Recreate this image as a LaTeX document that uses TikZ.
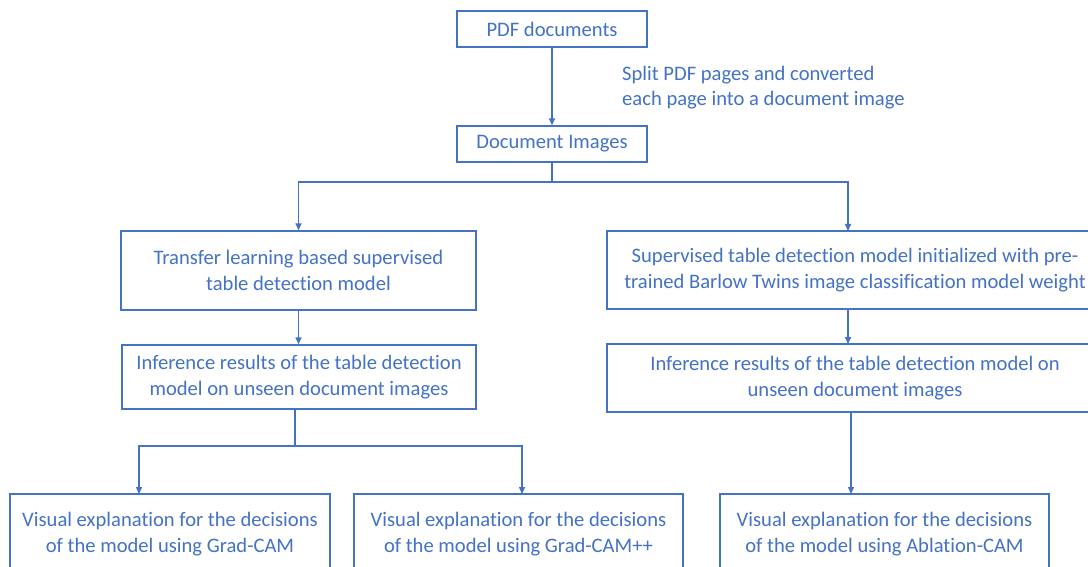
\documentclass[tikz,border=0pt]{standalone}
\usepackage{fontspec}
\setmainfont{Carlito}[Ligatures=NoCommon]
\usetikzlibrary{arrows.meta}
\definecolor{blu}{HTML}{4472C4}
\begin{document}
\begin{tikzpicture}[x=1pt,y=-1pt,
  box/.style={draw=blu, line width=1.4pt, text=blu, align=center, inner sep=0pt,
              font=\fontsize{20.6}{26}\selectfont},
  conn/.style={draw=blu, line width=1.4pt},
  arr/.style={conn, -{Triangle[length=7pt,width=6pt]}}]
\useasboundingbox (0,0) rectangle (1088,567);
\clip (0,0) rectangle (1088,567);
\fill[white] (0,0) rectangle (1088,567);
% nodes
\node[box, minimum width=190pt, minimum height=36pt] (pdf) at (552,29) {PDF documents};
\node[box, minimum width=190pt, minimum height=36pt] (doc) at (552,144) {Document Images};
\node[text=blu, align=left, anchor=west, inner sep=0pt, font=\fontsize{20.6}{25}\selectfont] (lbl) at (622,87.5)
  {Split PDF pages and converted\\each page into a document image};
\node[box, minimum width=355pt, minimum height=79pt] (l1) at (298.5,270.5)
  {Transfer learning based supervised\\table detection model};
\node[box, minimum width=354pt, minimum height=64pt] (l2) at (299,377)
  {Inference results of the table detection\\model on unseen document images};
\node[box, minimum width=496pt, minimum height=78pt] (r1) at (855,270)
  {Supervised table detection model initialized with pre-\\trained Barlow Twins image classification model weight};
\node[box, minimum width=496pt, minimum height=68pt] (r2) at (855,378)
  {Inference results of the table detection model on\\unseen document images};
\node[box, minimum width=320pt, minimum height=80pt] (bl) at (170,534)
  {Visual explanation for the decisions\\of the model using Grad-CAM};
\node[box, minimum width=329pt, minimum height=80pt] (bm) at (518.5,534)
  {Visual explanation for the decisions\\of the model using Grad-CAM++};
\node[box, minimum width=329pt, minimum height=80pt] (br) at (884.5,534)
  {Visual explanation for the decisions\\of the model using Ablation-CAM};
% junctions and ports
\coordinate (j1) at (552,182);
\coordinate (r1in) at (848,231);
\coordinate (r1out) at (848,309);
\coordinate (r2in) at (848,344);
\coordinate (r2out) at (851,412);
\coordinate (brin) at (851,494);
\coordinate (j2) at (295,446);
\coordinate (l2out) at (295,409);
\coordinate (blin) at (139,494);
\coordinate (bmin) at (522,494);
% connectors
\draw[arr] (pdf) -- (doc);
\draw[conn] (doc.south) -- (j1);
\draw[arr] (j1) -| (l1.north);
\draw[arr] (j1) -| (r1in);
\draw[arr] (l1.south) -- (l1.south |- l2.north);
\draw[arr] (r1out) -- (r2in);
\draw[conn] (l2out) -- (j2);
\draw[arr] (j2) -| (blin);
\draw[arr] (j2) -| (bmin);
\draw[arr] (r2out) -- (brin);
\end{tikzpicture}
\end{document}
